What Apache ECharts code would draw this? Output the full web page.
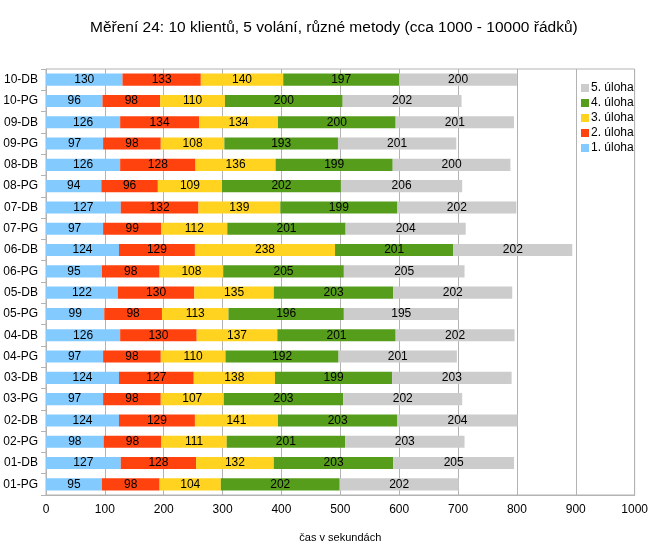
<!DOCTYPE html>
<html><head><meta charset="utf-8">
<script src="https://cdn.jsdelivr.net/npm/echarts@6/dist/echarts.min.js"></script>
<style>html,body{margin:0;padding:0;background:#fff}#c{width:651px;height:550px}</style>
</head><body><div id="c"></div>
<script>
const categories = ['01-PG','01-DB','02-PG','02-DB','03-PG','03-DB','04-PG','04-DB','05-PG','05-DB','06-PG','06-DB','07-PG','07-DB','08-PG','08-DB','09-PG','09-DB','10-PG','10-DB'];
const task1 = [95,127,98,124,97,124,97,126,99,122,95,124,97,127,94,126,97,126,96,130];
const task2 = [98,128,98,129,98,127,98,130,98,130,98,129,99,132,96,128,98,134,98,133];
const task3 = [104,132,111,141,107,138,110,137,113,135,108,238,112,139,109,136,108,134,110,140];
const task4 = [202,203,201,203,203,199,192,201,196,203,205,201,201,199,202,199,193,200,200,197];
const task5 = [202,205,203,204,202,203,201,202,195,202,205,202,204,202,206,200,201,201,202,200];
const seriesNames = ['1. úloha','2. úloha','3. úloha','4. úloha','5. úloha'];
const colors = ['#83caff','#ff420e','#ffd320','#579d1c','#cccccc'];
const xTicks = [0,100,200,300,400,500,600,700,800,900,1000];

const font = 'Liberation Sans';
const chart = echarts.init(document.getElementById('c'), null, {renderer:'canvas'});
const data = [task1,task2,task3,task4,task5];
chart.setOption({
  animation:false,
  textStyle:{fontFamily:font},
  title:{text:'Měření 24: 10 klientů, 5 volání, různé metody (cca 1000 - 10000 řádků)',left:85,top:15,
    textStyle:{fontFamily:font,fontSize:15.5,fontWeight:'normal',color:'#000'}},
  legend:{orient:'vertical',left:576,top:77,itemWidth:8,itemHeight:8,itemGap:3,
    data:seriesNames.slice().reverse(),
    textStyle:{fontFamily:font,fontSize:12,color:'#000',padding:[0,0,0,-3]},icon:'rect'},
  grid:{left:46,right:16,top:69,bottom:55,show:true,borderColor:'#b3b3b3',borderWidth:1},
  xAxis:{type:'value',min:xTicks[0],max:xTicks[xTicks.length-1],interval:100,
    name:'čas v sekundách',nameLocation:'middle',nameGap:37,
    nameTextStyle:{fontFamily:font,fontSize:11,color:'#000'},
    axisLine:{show:true,lineStyle:{color:'#b3b3b3'}},
    axisTick:{show:false},
    axisLabel:{fontFamily:font,fontSize:12,color:'#000',margin:9,formatter:v=>String(v)},
    splitLine:{show:true,lineStyle:{color:'#b3b3b3'}}},
  yAxis:{type:'category',data:categories,
    axisLine:{show:true,lineStyle:{color:'#b3b3b3'}},
    axisTick:{show:true,length:5,inside:false,lineStyle:{color:'#b3b3b3'}},
    axisLabel:{fontFamily:font,fontSize:12,color:'#000',margin:8},
    splitLine:{show:false}},
  series:seriesNames.map((n,i)=>({
    name:n,type:'bar',stack:'t',data:data[i],barWidth:'57%',
    itemStyle:{color:colors[i]},
    label:{show:true,position:'inside',color:'#000',fontFamily:font,fontSize:12}
  }))
});
</script></body></html>
